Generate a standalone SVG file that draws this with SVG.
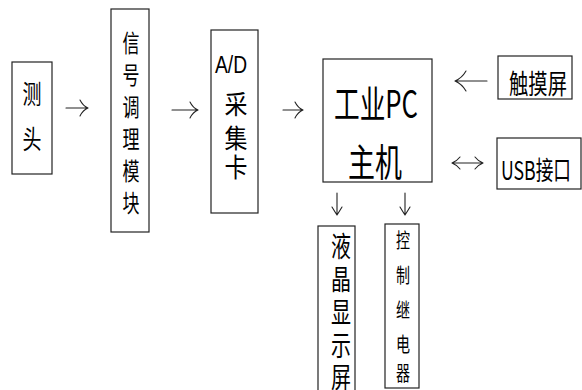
<svg xmlns="http://www.w3.org/2000/svg" width="582" height="390" viewBox="0 0 582 390">
<style>
.box{fill:#fff;stroke:#222;stroke-width:1.2}
.t{font-family:"Noto Sans CJK SC","Liberation Sans",sans-serif;fill:#000;text-anchor:middle}
.c{fill:none;stroke:#222;stroke-width:1.1;stroke-linecap:round;stroke-linejoin:round}
</style>
<rect width="582" height="390" fill="#fff"/>
<g id="probe">
<rect class="box" x="12" y="62" width="40" height="112"/>
<text class="t" x="32" y="104" font-size="26" textLength="19" lengthAdjust="spacingAndGlyphs">测</text>
<text class="t" x="32" y="149" font-size="26" textLength="19" lengthAdjust="spacingAndGlyphs">头</text>
</g>
<g id="signal">
<rect class="box" x="111" y="9" width="38" height="223"/>
<text class="t" x="131" y="52" font-size="24" textLength="17" lengthAdjust="spacingAndGlyphs">信</text>
<text class="t" x="131" y="84" font-size="24" textLength="17" lengthAdjust="spacingAndGlyphs">号</text>
<text class="t" x="131" y="116" font-size="24" textLength="17" lengthAdjust="spacingAndGlyphs">调</text>
<text class="t" x="131" y="148" font-size="24" textLength="17" lengthAdjust="spacingAndGlyphs">理</text>
<text class="t" x="131" y="180" font-size="24" textLength="17" lengthAdjust="spacingAndGlyphs">模</text>
<text class="t" x="131" y="212" font-size="24" textLength="17" lengthAdjust="spacingAndGlyphs">块</text>
</g>
<g id="adcard">
<rect class="box" x="211" y="30" width="47" height="183"/>
<text x="215" y="73" font-family="Liberation Sans, sans-serif" font-size="23" textLength="32" lengthAdjust="spacingAndGlyphs">A/D</text>
<text class="t" x="236" y="114" font-size="26" textLength="23" lengthAdjust="spacingAndGlyphs">采</text>
<text class="t" x="236" y="148" font-size="26" textLength="23" lengthAdjust="spacingAndGlyphs">集</text>
<text class="t" x="236" y="177" font-size="26" textLength="23" lengthAdjust="spacingAndGlyphs">卡</text>
</g>
<g id="pc">
<rect class="box" x="323" y="59" width="109" height="123"/>
<text class="t" x="376" y="118" font-size="38" textLength="84" lengthAdjust="spacingAndGlyphs">工业PC</text>
<text class="t" x="375" y="176" font-size="38" textLength="54" lengthAdjust="spacingAndGlyphs">主机</text>
</g>
<g id="touch">
<rect class="box" x="498" y="56" width="74" height="43"/>
<text class="t" x="538" y="94" font-size="27" textLength="58" lengthAdjust="spacingAndGlyphs">触摸屏</text>
</g>
<g id="usb">
<rect class="box" x="497" y="138" width="84" height="51"/>
<text class="t" x="536" y="180" font-size="26" textLength="70" lengthAdjust="spacingAndGlyphs">USB接口</text>
</g>
<g id="lcd">
<rect class="box" x="318" y="226" width="37" height="170"/>
<text class="t" x="341" y="257" font-size="28" textLength="20" lengthAdjust="spacingAndGlyphs">液</text>
<text class="t" x="341" y="290" font-size="28" textLength="20" lengthAdjust="spacingAndGlyphs">晶</text>
<text class="t" x="341" y="323" font-size="28" textLength="20" lengthAdjust="spacingAndGlyphs">显</text>
<text class="t" x="341" y="356" font-size="28" textLength="20" lengthAdjust="spacingAndGlyphs">示</text>
<text class="t" x="341" y="388" font-size="28" textLength="20" lengthAdjust="spacingAndGlyphs">屏</text>
</g>
<g id="relay">
<rect class="box" x="385" y="224" width="34" height="164"/>
<text class="t" x="403" y="248" font-size="20" textLength="14" lengthAdjust="spacingAndGlyphs">控</text>
<text class="t" x="403" y="283" font-size="20" textLength="14" lengthAdjust="spacingAndGlyphs">制</text>
<text class="t" x="403" y="318" font-size="20" textLength="14" lengthAdjust="spacingAndGlyphs">继</text>
<text class="t" x="403" y="352" font-size="20" textLength="14" lengthAdjust="spacingAndGlyphs">电</text>
<text class="t" x="403" y="381" font-size="20" textLength="14" lengthAdjust="spacingAndGlyphs">器</text>
</g>
<g id="connectors">
<path class="c" d="M66,108H88M80,100Q83,106 88,108Q83,110 80,116"/>
<path class="c" d="M172,110H198M190,102Q193,108 198,110Q193,112 190,118"/>
<path class="c" d="M283,110H303M295,102Q298,108 303,110Q298,112 295,118"/>
<path class="c" d="M487,81H455M466,71Q462,78 455,81Q462,84 466,91"/>
<path class="c" d="M452,163H483M460,157Q457,161 452,163Q457,165 460,169M475,157Q478,161 483,163Q478,165 475,169"/>
<path class="c" d="M337,193V215M332,207Q335,212 337,215Q339,212 342,207"/>
<path class="c" d="M405,193V215M400,207Q403,212 405,215Q407,212 410,207"/>
</g>
</svg>
